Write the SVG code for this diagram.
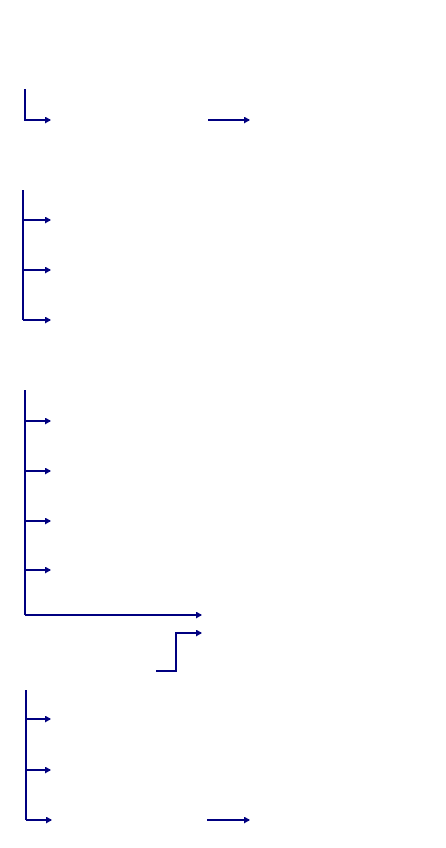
<svg xmlns="http://www.w3.org/2000/svg" width="446" height="848" viewBox="0 0 446 848">
<defs>
<style>
.c{fill:none;stroke:#000080;stroke-width:2;marker-end:url(#a)}
.n{fill:none;stroke:#000080;stroke-width:2}
</style>
<marker id="a" markerUnits="userSpaceOnUse" markerWidth="6" markerHeight="8" refX="5" refY="3.5" orient="auto">
<path d="M0,0 L6,3.5 L0,7 z" fill="#000080"/>
</marker>
</defs>
<rect width="446" height="848" fill="#fff"/>
<g id="connectors">
<path class="c" d="M25,89 V120 H50"/>
<path class="c" d="M208,120 H249"/>
<path class="n" d="M23,190 V320"/>
<path class="c" d="M23,220 H50"/>
<path class="c" d="M23,270 H50"/>
<path class="c" d="M23,320 H50"/>
<path class="n" d="M25,390 V615"/>
<path class="c" d="M25,421 H50"/>
<path class="c" d="M25,471 H50"/>
<path class="c" d="M25,521 H50"/>
<path class="c" d="M25,570 H50"/>
<path class="c" d="M25,615 H201"/>
<path class="c" d="M156,671 H176 V633 H201"/>
<path class="n" d="M26,690 V820"/>
<path class="c" d="M26,719 H50"/>
<path class="c" d="M26,770 H50"/>
<path class="c" d="M26,820 H51"/>
<path class="c" d="M207,820 H249"/>
</g>
</svg>
